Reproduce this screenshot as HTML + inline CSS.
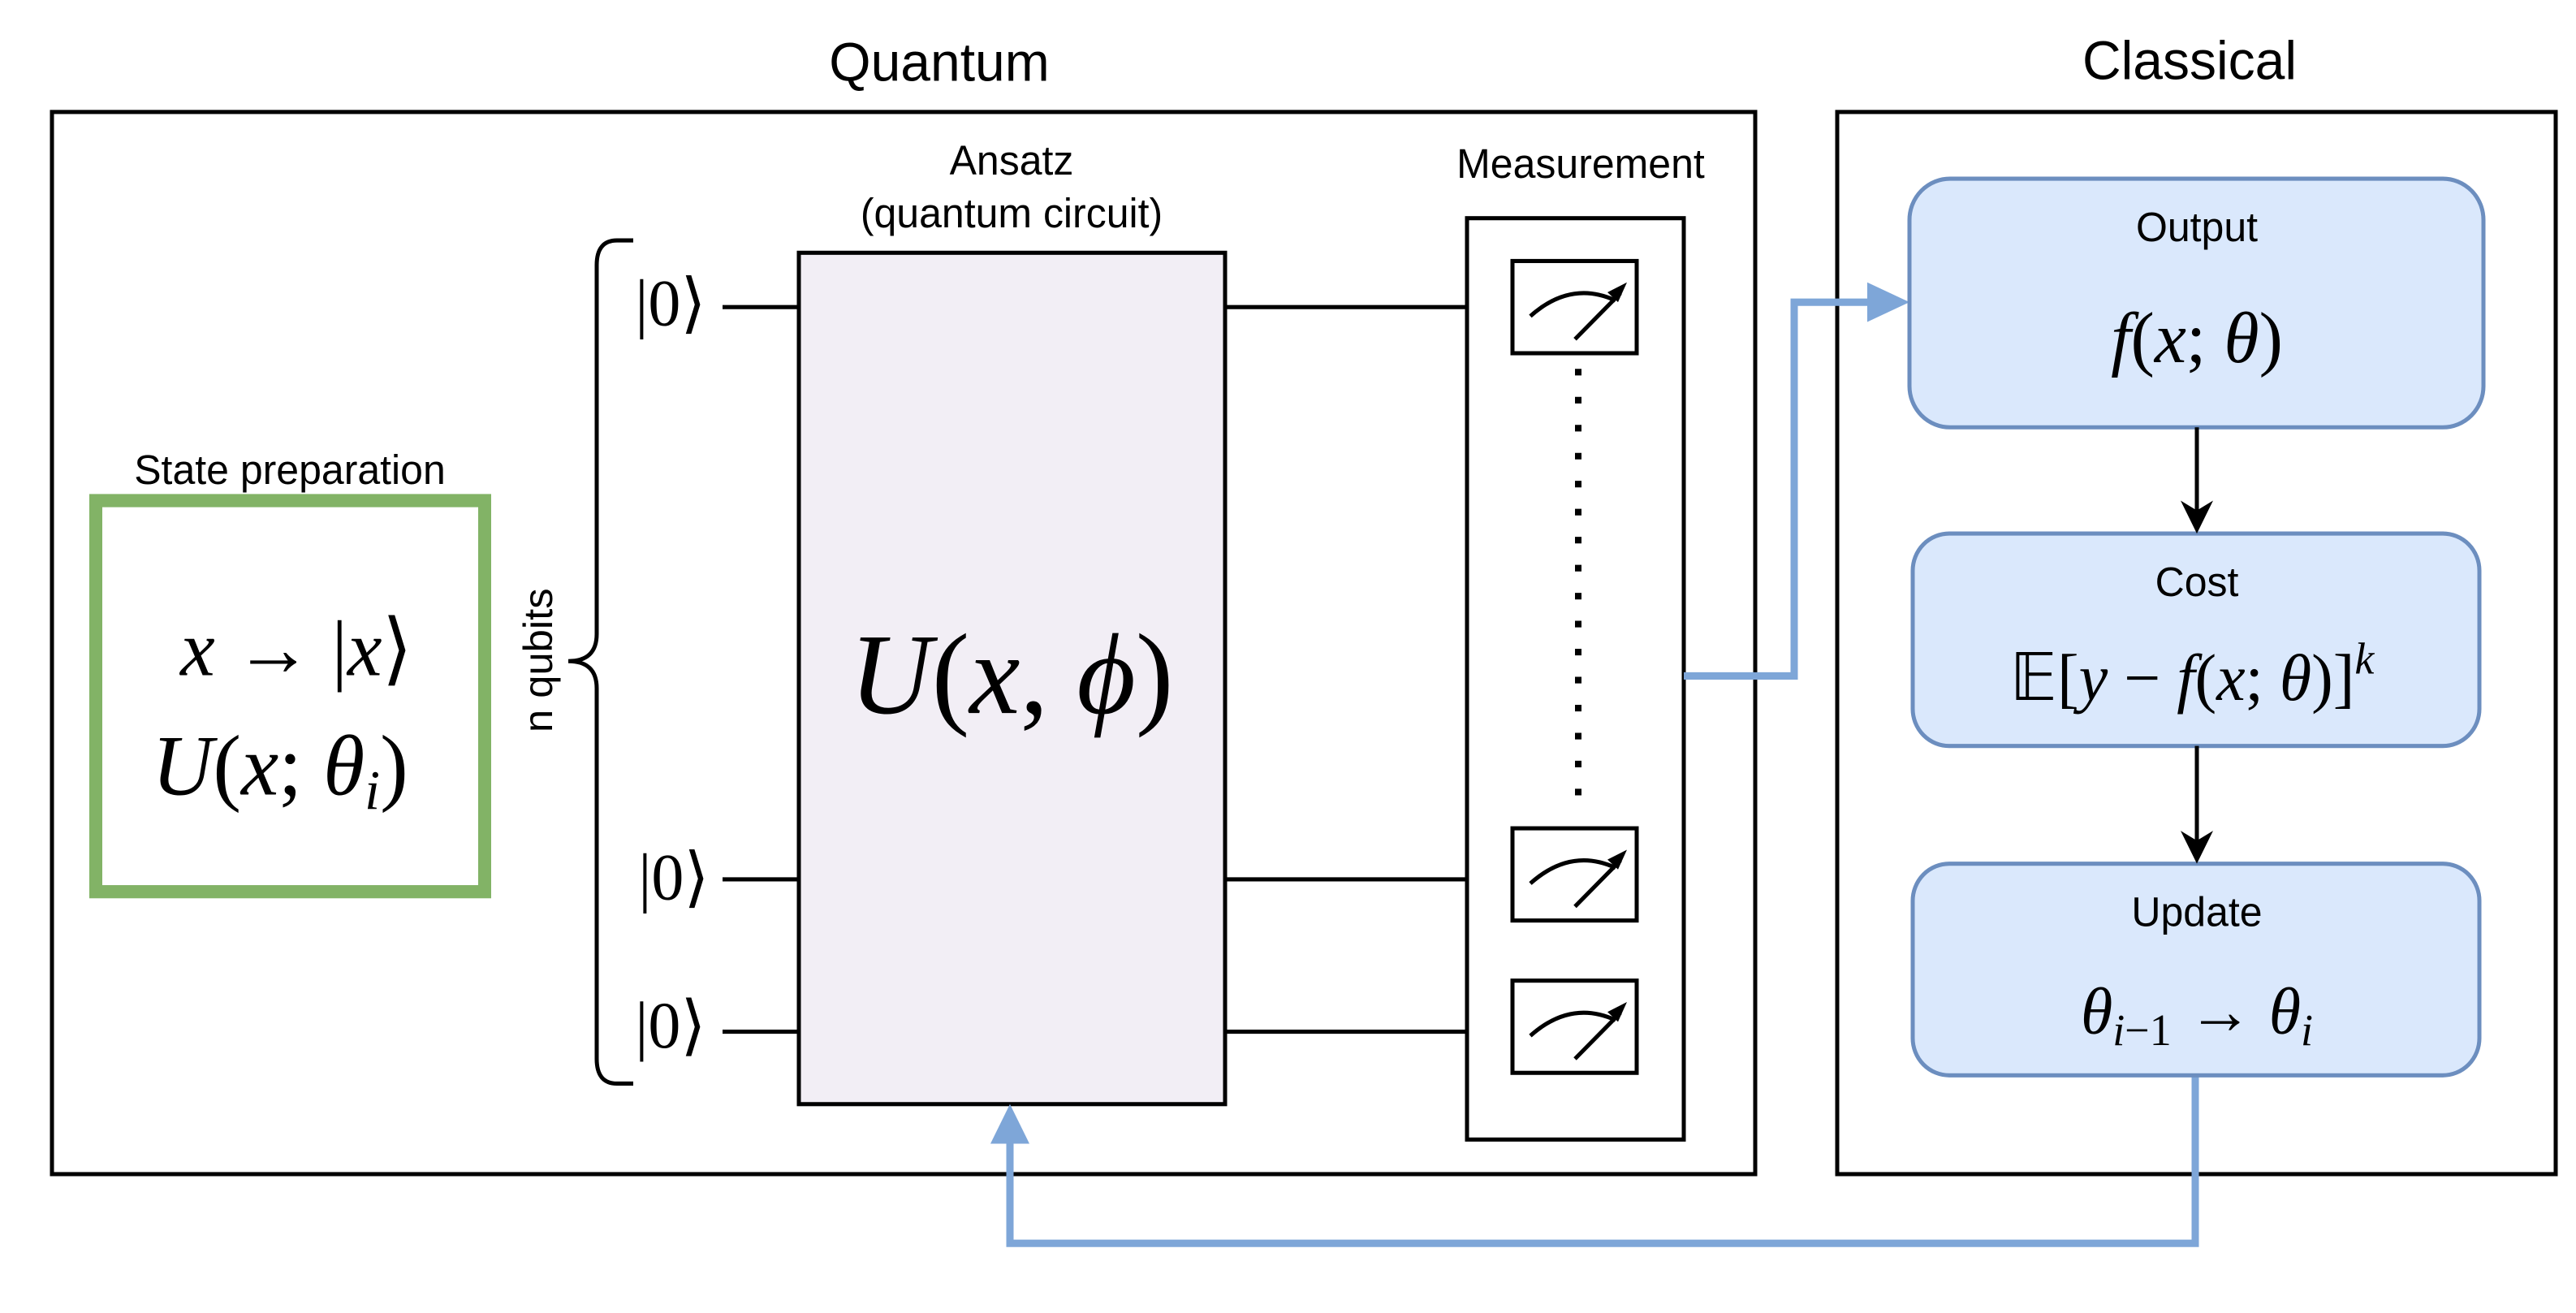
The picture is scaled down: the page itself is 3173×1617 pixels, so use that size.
<!DOCTYPE html>
<html><head><meta charset="utf-8"><style>
html,body{margin:0;padding:0;background:#fff;}
svg{display:block;}
.s{font-family:"Liberation Sans",sans-serif;fill:#000;}
.m{font-family:"Liberation Serif",serif;fill:#000;}
</style></head><body>
<svg width="3173" height="1617" viewBox="0 0 3173 1617" xmlns="http://www.w3.org/2000/svg">
<g transform="scale(1,1.014)">
<!-- titles -->
<text class="s" x="1157" y="98" font-size="66" text-anchor="middle">Quantum</text>
<text class="s" x="2697" y="96" font-size="66" text-anchor="middle">Classical</text>
<!-- outer boxes -->
<rect x="64" y="136" width="2098" height="1290" fill="none" stroke="#000" stroke-width="5"/>
<rect x="2263" y="136" width="885" height="1290" fill="none" stroke="#000" stroke-width="5"/>
<!-- state prep -->
<text class="s" x="357" y="588" font-size="50" text-anchor="middle">State preparation</text>
<rect x="118" y="608" width="479" height="475" fill="none" stroke="#82b366" stroke-width="16"/>
<text class="m" x="365" y="820" font-size="96" text-anchor="middle"><tspan font-style="italic">x</tspan> → |<tspan font-style="italic">x</tspan>⟩</text>
<text class="m" x="345" y="965" font-size="104" text-anchor="middle"><tspan font-style="italic">U</tspan>(<tspan font-style="italic">x</tspan>; <tspan font-style="italic">θ</tspan><tspan font-style="italic" font-size="68" dy="18">i</tspan><tspan dy="-18">)</tspan></text>
<!-- n qubits -->
<text class="s" x="0" y="0" font-size="50" text-anchor="middle" transform="translate(680,802) rotate(-90)">n qubits</text>
<!-- brace -->
<path d="M780,292 L760,292 Q735,292 735,322 L735,770 Q735,803 700,803 Q735,803 735,836 L735,1286 Q735,1316 760,1316 L780,1316" fill="none" stroke="#000" stroke-width="5"/>
<!-- kets -->
<text class="m" x="826" y="395" font-size="80" text-anchor="middle">|0⟩</text>
<text class="m" x="830" y="1092" font-size="80" text-anchor="middle">|0⟩</text>
<text class="m" x="826" y="1272" font-size="80" text-anchor="middle">|0⟩</text>
<!-- wires -->
<g stroke="#000" stroke-width="5">
<line x1="890" y1="373" x2="1807" y2="373"/>
<line x1="890" y1="1068" x2="1807" y2="1068"/>
<line x1="890" y1="1253" x2="1807" y2="1253"/>
</g>
<!-- ansatz -->
<text class="s" x="1246" y="212" font-size="50" text-anchor="middle">Ansatz</text>
<text class="s" x="1246" y="276" font-size="50" text-anchor="middle">(quantum circuit)</text>
<rect x="984" y="307" width="525" height="1034" fill="#f2eef5" stroke="#000" stroke-width="5"/>
<text class="m" x="1246" y="866" font-size="140" text-anchor="middle"><tspan font-style="italic">U</tspan>(<tspan font-style="italic">x</tspan>, <tspan font-style="italic">ϕ</tspan>)</text>
<!-- measurement -->
<text class="s" x="1947" y="216" font-size="50" text-anchor="middle">Measurement</text>
<rect x="1807" y="265" width="267" height="1119" fill="#fff" stroke="#000" stroke-width="5"/>
<line x1="1944" y1="448" x2="1944" y2="990" stroke="#000" stroke-width="8" stroke-dasharray="8,26"/>
<g id="meter">
<rect x="1863" y="317" width="153" height="112" fill="#fff" stroke="#000" stroke-width="5"/>
<path d="M1885,384 Q1935,340 1990,365" fill="none" stroke="#000" stroke-width="5"/>
<line x1="1940" y1="412" x2="1996" y2="356" stroke="#000" stroke-width="5"/>
<path d="M2004,343 L1980,355 L1993,367 Z" fill="#000"/>
</g>
<use href="#meter" transform="translate(0,689)"/>
<use href="#meter" transform="translate(0,874)"/>
<!-- blue connectors -->
<polyline points="2074,821 2210,821 2210,367 2305,367" fill="none" stroke="#7ea6d8" stroke-width="9"/>
<path d="M2352,367 L2300,343 L2300,391 Z" fill="#7ea6d8"/>
<polyline points="2704,1306 2704,1510 1244,1510 1244,1385" fill="none" stroke="#7ea6d8" stroke-width="9"/>
<path d="M1244,1341 L1220,1389 L1268,1389 Z" fill="#7ea6d8"/>
<!-- classical boxes -->
<rect x="2352" y="217" width="707" height="302" rx="50" fill="#dae8fc" stroke="#6c8ebf" stroke-width="5"/>
<text class="s" x="2706" y="293" font-size="50" text-anchor="middle">Output</text>
<text class="m" x="2706" y="440" font-size="88" text-anchor="middle"><tspan font-style="italic">f</tspan>(<tspan font-style="italic">x</tspan>; <tspan font-style="italic">θ</tspan>)</text>
<rect x="2356" y="648" width="698" height="258" rx="45" fill="#dae8fc" stroke="#6c8ebf" stroke-width="5"/>
<text class="s" x="2706" y="724" font-size="50" text-anchor="middle">Cost</text>
<text class="m" x="2700" y="850" font-size="80" text-anchor="middle">𝔼[<tspan font-style="italic">y</tspan> − <tspan font-style="italic">f</tspan>(<tspan font-style="italic">x</tspan>; <tspan font-style="italic">θ</tspan>)]<tspan font-style="italic" font-size="54" dy="-32">k</tspan></text>
<rect x="2356" y="1049" width="698" height="257" rx="45" fill="#dae8fc" stroke="#6c8ebf" stroke-width="5"/>
<text class="s" x="2706" y="1125" font-size="50" text-anchor="middle">Update</text>
<text class="m" x="2706" y="1255" font-size="80" text-anchor="middle"><tspan font-style="italic">θ</tspan><tspan font-size="54" dy="14"><tspan font-style="italic">i</tspan>−1</tspan><tspan dy="-14"> → </tspan><tspan font-style="italic">θ</tspan><tspan font-style="italic" font-size="54" dy="14">i</tspan></text>
<!-- black arrows -->
<g stroke="#000" stroke-width="5">
<line x1="2706" y1="519" x2="2706" y2="630"/>
<line x1="2706" y1="906" x2="2706" y2="1030"/>
</g>
<path d="M2706,648 L2686,608 L2706,620 L2726,608 Z" fill="#000"/>
<path d="M2706,1049 L2686,1009 L2706,1021 L2726,1009 Z" fill="#000"/>
</g>
</svg>
</body></html>
